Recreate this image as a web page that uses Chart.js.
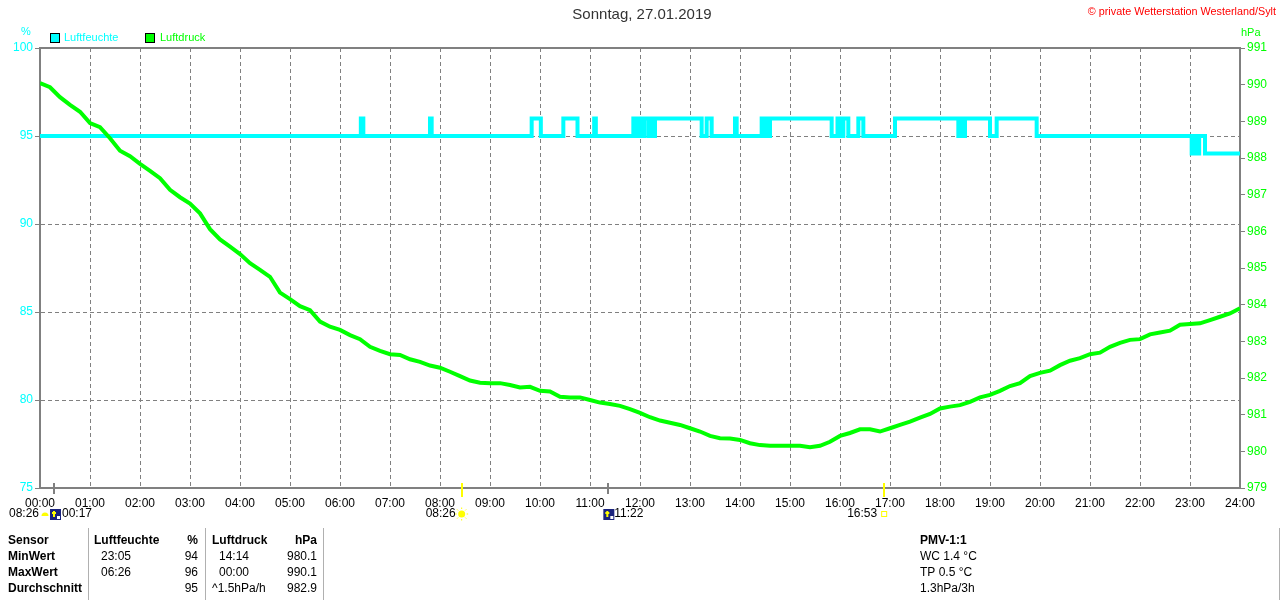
<!DOCTYPE html>
<html>
<head>
<meta charset="utf-8">
<title>Sonntag, 27.01.2019</title>
<script src="https://cdn.jsdelivr.net/npm/chart.js@4.4.1/dist/chart.umd.min.js"></script>
<style>
  body { margin: 0; background: #fff; }
  canvas { display: block; }
</style>
</head>
<body>
<canvas id="weather-chart" width="1280" height="600"></canvas>
<script>
// Luftdruck (hPa), one reading every 12 minutes, 00:00 .. 24:00
const pressureStep = 12;
const pressure = [
  990.04, 989.93, 989.66, 989.45, 989.26,
  988.95, 988.84, 988.54, 988.20, 988.05,
  987.84, 987.65, 987.45, 987.13, 986.93,
  986.76, 986.49, 986.06, 985.78, 985.58,
  985.38, 985.13, 984.95, 984.76, 984.33,
  984.15, 983.96, 983.85, 983.54, 983.40,
  983.31, 983.17, 983.06, 982.85, 982.74,
  982.65, 982.63, 982.51, 982.44, 982.34,
  982.28, 982.17, 982.05, 981.93, 981.87,
  981.86, 981.86, 981.81, 981.74, 981.76,
  981.65, 981.63, 981.49, 981.47, 981.47,
  981.40, 981.33, 981.29, 981.24, 981.15,
  981.05, 980.93, 980.84, 980.78, 980.72,
  980.63, 980.54, 980.42, 980.36, 980.35,
  980.31, 980.22, 980.17, 980.15, 980.15,
  980.15, 980.15, 980.11, 980.15, 980.26,
  980.42, 980.50, 980.60, 980.60, 980.54,
  980.63, 980.72, 980.81, 980.92, 981.02,
  981.17, 981.22, 981.26, 981.35, 981.47,
  981.54, 981.65, 981.78, 981.86, 982.05,
  982.14, 982.20, 982.35, 982.47, 982.54,
  982.65, 982.69, 982.85, 982.96, 983.04,
  983.06, 983.19, 983.24, 983.29, 983.45,
  983.47, 983.49, 983.58, 983.67, 983.76,
  983.90,
];

// Luftfeuchte (%): minute of the day where the value changes, and the new value
const humTimes = [
  0, 385, 388, 468, 470, 590, 601, 628, 645, 665, 667,
  712, 716, 718, 722, 725, 730, 733, 736, 738, 794, 800, 806,
  834, 836, 866, 869, 871, 874, 876, 950, 957, 960, 964, 970,
  982, 988, 1026, 1102, 1105, 1107, 1110, 1140, 1148, 1196,
  1382, 1386, 1388, 1391, 1398, 1440,
];
const humValues = [
  95, 96, 95, 96, 95, 96, 95, 96, 95, 96, 95,
  96, 95, 96, 95, 96, 95, 96, 95, 96, 95, 96, 95,
  96, 95, 96, 95, 96, 95, 96, 95, 96, 95, 96, 95,
  96, 95, 96, 95, 96, 95, 96, 95, 96, 95,
  94, 95, 94, 95, 94, 94,
];

// sun / moon times (minutes of the day)
const sunRise = { label: "08:26", minute: 506 };
const sunSet = { label: "16:53", minute: 1013 };
const moonRise = { label: "00:17", minute: 17 };
const moonSet = { label: "11:22", minute: 682 };

const statHeader = ["Sensor", "Luftfeuchte", "%", "Luftdruck", "hPa"];
const statRows = [
  ["MinWert", "23:05", "94", "14:14", "980.1"],
  ["MaxWert", "06:26", "96", "00:00", "990.1"],
  ["Durchschnitt", "", "95", "^1.5hPa/h", "982.9"],
];
const pmvLines = ["PMV-1:1", "WC 1.4 °C", "TP 0.5 °C", "1.3hPa/3h"];

const FONT = "'Liberation Sans', Arial, sans-serif";
const CYAN = "#00ffff";
const GREEN = "#00ff00";
const GRAY = "#808080";

const pressure_points = () =>
  pressure.map((v, i) => ({ x: i * pressureStep, y: v }));

const humidity_points = () =>
  humTimes.map((t, i) => ({ x: t, y: humValues[i] }));

const hour_label = (minutes) =>
  String(Math.round(minutes / 60)).padStart(2, "0") + ":00";

const draw_text = (ctx, text, x, y, font, color, align) => {
  ctx.font = font;
  ctx.fillStyle = color;
  ctx.textAlign = align || "left";
  ctx.textBaseline = "middle";
  ctx.fillText(text, x, y);
};

const draw_sun = (ctx, x, y) => {
  ctx.fillStyle = "#ffff00";
  ctx.strokeStyle = "#ffff00";
  ctx.lineWidth = 1;
  ctx.beginPath();
  ctx.arc(x, y, 3.5, 0, Math.PI * 2);
  ctx.fill();
  for (let k = 0; k < 8; k++) {
    const a = (k * Math.PI) / 4;
    ctx.beginPath();
    ctx.moveTo(x + Math.cos(a) * 5, y + Math.sin(a) * 5);
    ctx.lineTo(x + Math.cos(a) * 6.5, y + Math.sin(a) * 6.5);
    ctx.stroke();
  }
};

const draw_moon_box = (ctx, x, y) => {
  ctx.fillStyle = "#1a237e";
  ctx.fillRect(x, y, 11, 11);
  ctx.fillStyle = "#ffff00";
  ctx.fillRect(x + 3, y + 2, 2, 6);
  ctx.fillRect(x + 2, y + 3, 4, 2);
  ctx.fillStyle = "#ffffff";
  ctx.fillRect(x + 7, y + 7, 3, 3);
};

const extras = {
  id: "extras",
  afterDraw(chart) {
    const ctx = chart.ctx;
    const area = chart.chartArea;
    const xs = chart.scales.x;
    ctx.save();

    // top frame line
    ctx.strokeStyle = GRAY;
    ctx.lineWidth = 2;
    ctx.beginPath();
    ctx.moveTo(area.left - 1, area.top);
    ctx.lineTo(area.right + 1, area.top);
    ctx.stroke();

    draw_text(ctx, "Sonntag, 27.01.2019", 642, 15, "15px " + FONT, "#333333", "center");
    draw_text(ctx, "© private Wetterstation Westerland/Sylt", 1276, 12, "10.8px " + FONT, "#ff0000", "right");
    draw_text(ctx, "%", 26, 32, "11px " + FONT, CYAN, "center");
    draw_text(ctx, "hPa", 1241, 33, "11px " + FONT, GREEN, "left");

    // legend
    ctx.lineWidth = 1;
    ctx.strokeStyle = "#000000";
    ctx.fillStyle = CYAN;
    ctx.fillRect(50.5, 33.5, 9, 9);
    ctx.strokeRect(50.5, 33.5, 9, 9);
    draw_text(ctx, "Luftfeuchte", 64, 38, "11px " + FONT, CYAN);
    ctx.fillStyle = GREEN;
    ctx.fillRect(145.5, 33.5, 9, 9);
    ctx.strokeRect(145.5, 33.5, 9, 9);
    draw_text(ctx, "Luftdruck", 160, 38, "11px " + FONT, GREEN);

    // sun and moon marks on the time axis
    const xRise = xs.getPixelForValue(sunRise.minute);
    const xSet = xs.getPixelForValue(sunSet.minute);
    const xMoonRise = xs.getPixelForValue(moonRise.minute);
    const xMoonSet = xs.getPixelForValue(moonSet.minute);
    ctx.lineWidth = 2;
    ctx.strokeStyle = "#ffff00";
    [xRise, xSet].forEach((x) => {
      ctx.beginPath();
      ctx.moveTo(Math.round(x), area.bottom - 5);
      ctx.lineTo(Math.round(x), area.bottom + 9);
      ctx.stroke();
    });
    ctx.strokeStyle = GRAY;
    [xMoonRise, xMoonSet].forEach((x) => {
      ctx.beginPath();
      ctx.moveTo(Math.round(x), area.bottom - 5);
      ctx.lineTo(Math.round(x), area.bottom + 6);
      ctx.stroke();
    });

    const rowY = 514;
    const small = "12px " + FONT;
    draw_text(ctx, sunRise.label, 9, rowY, small, "#000000");
    ctx.fillStyle = "#ffff00";
    ctx.beginPath();
    ctx.arc(45, rowY + 2, 3.5, Math.PI, 0);
    ctx.fill();
    draw_moon_box(ctx, 50, rowY - 5);
    draw_text(ctx, moonRise.label, 62, rowY, small, "#000000");

    draw_text(ctx, sunRise.label, xRise - 6, rowY, small, "#000000", "right");
    draw_sun(ctx, xRise, rowY);

    draw_moon_box(ctx, xMoonSet - 5, rowY - 5);
    draw_text(ctx, moonSet.label, xMoonSet + 6, rowY, small, "#000000");

    draw_text(ctx, sunSet.label, xSet - 7, rowY, small, "#000000", "right");
    ctx.strokeStyle = "#ffff00";
    ctx.lineWidth = 1;
    ctx.strokeRect(xSet - 2.5, rowY - 2.5, 5, 5);

    // statistics table
    ctx.strokeStyle = "#b0b0b0";
    ctx.lineWidth = 1;
    [88.5, 205.5, 323.5, 1279.5].forEach((x) => {
      ctx.beginPath();
      ctx.moveTo(x, 528);
      ctx.lineTo(x, 600);
      ctx.stroke();
    });
    const bold = "bold 12px " + FONT;
    const headY = 541;
    draw_text(ctx, statHeader[0], 8, headY, bold, "#000000");
    draw_text(ctx, statHeader[1], 94, headY, bold, "#000000");
    draw_text(ctx, statHeader[2], 198, headY, bold, "#000000", "right");
    draw_text(ctx, statHeader[3], 212, headY, bold, "#000000");
    draw_text(ctx, statHeader[4], 317, headY, bold, "#000000", "right");
    statRows.forEach((row, i) => {
      const y = 557 + i * 16;
      draw_text(ctx, row[0], 8, y, bold, "#000000");
      draw_text(ctx, row[1], 101, y, small, "#000000");
      draw_text(ctx, row[2], 198, y, small, "#000000", "right");
      const indent = row[3].startsWith("^") ? 212 : 219;
      draw_text(ctx, row[3], indent, y, small, "#000000");
      draw_text(ctx, row[4], 317, y, small, "#000000", "right");
    });
    pmvLines.forEach((line, i) => {
      draw_text(ctx, line, 920, headY + i * 16, i === 0 ? bold : small, "#000000");
    });

    ctx.restore();
  },
};

const config = {
  type: "line",
  data: {
    datasets: [
      {
        label: "Luftdruck",
        data: pressure_points(),
        yAxisID: "yP",
        borderColor: GREEN,
        backgroundColor: GREEN,
        borderWidth: 4,
        pointRadius: 0,
        tension: 0,
      },
      {
        label: "Luftfeuchte",
        data: humidity_points(),
        yAxisID: "yH",
        borderColor: CYAN,
        backgroundColor: CYAN,
        borderWidth: 4,
        pointRadius: 0,
        stepped: true,
      },
    ],
  },
  options: {
    responsive: false,
    animation: false,
    devicePixelRatio: 1,
    layout: { padding: { top: 48, left: 0, right: 0, bottom: 0 } },
    plugins: {
      legend: { display: false },
      title: { display: false },
      tooltip: { enabled: false },
    },
    scales: {
      x: {
        type: "linear",
        min: 0,
        max: 1440,
        afterFit: (scale) => {
          scale.height = 112;
        },
        afterBuildTicks: (scale) => {
          scale.ticks = [];
          for (let m = 0; m <= 1440; m += 60) scale.ticks.push({ value: m });
        },
        ticks: {
          autoSkip: false,
          maxRotation: 0,
          padding: 8,
          color: "#000000",
          font: { family: FONT, size: 12 },
          callback: (value) => hour_label(value),
        },
        grid: { color: GRAY, drawTicks: false },
        border: { color: GRAY, width: 2, dash: [4, 3] },
      },
      yH: {
        position: "left",
        min: 75,
        max: 100,
        afterFit: (scale) => {
          scale.width = 40;
        },
        ticks: {
          stepSize: 5,
          padding: 2,
          color: CYAN,
          font: { family: FONT, size: 12 },
        },
        grid: { color: GRAY, tickLength: 5, tickColor: GRAY },
        border: { color: GRAY, width: 2, dash: [4, 3] },
      },
      yP: {
        position: "right",
        min: 979,
        max: 991,
        afterFit: (scale) => {
          scale.width = 40;
        },
        ticks: {
          stepSize: 1,
          padding: 2,
          color: GREEN,
          font: { family: FONT, size: 12 },
        },
        grid: { drawOnChartArea: false, tickLength: 5, tickColor: GRAY, color: GRAY },
        border: { color: GRAY, width: 2 },
      },
    },
  },
  plugins: [extras],
};

const weatherChart = new Chart(document.getElementById("weather-chart"), config);
</script>
</body>
</html>
